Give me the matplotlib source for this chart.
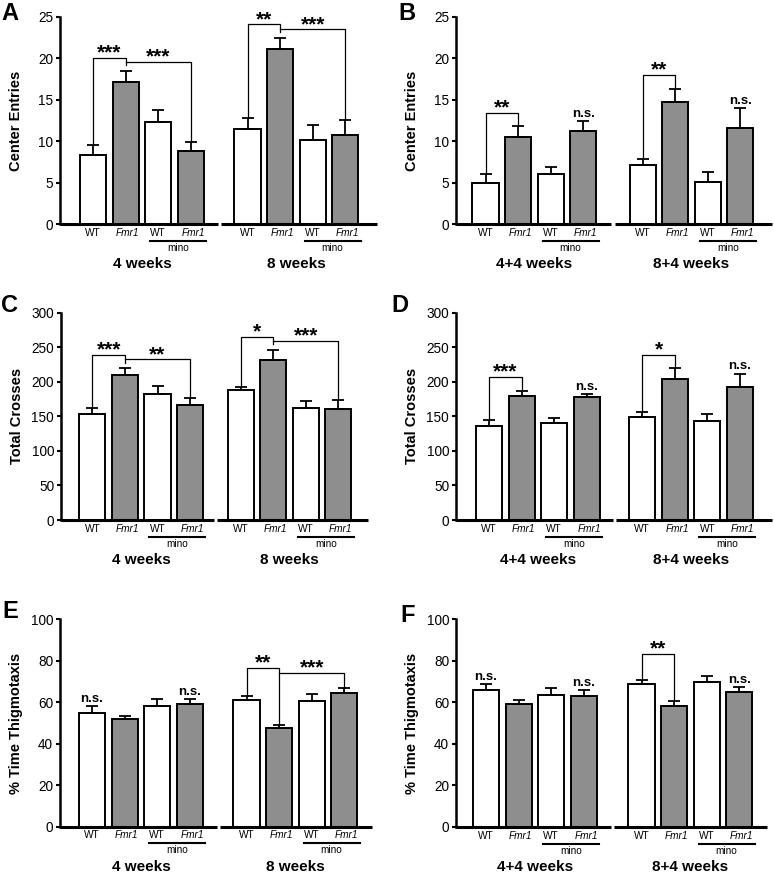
import matplotlib
matplotlib.use("Agg")
import matplotlib.pyplot as plt
from matplotlib import transforms
import numpy as np

plt.rcParams['font.family'] = ['Liberation Sans', 'DejaVu Sans']

# ---------------- data ----------------
genotypes = ["WT", "Fmr1", "WT", "Fmr1"]
treatment = "mino"
young_groups = ["4 weeks", "8 weeks"]
adult_groups = ["4+4 weeks", "8+4 weeks"]

ce_young_mean = [8.3, 17.2, 12.3, 8.8, 11.5, 21.1, 10.2, 10.7]
ce_young_sem = [1.2, 1.3, 1.5, 1.05, 1.3, 1.4, 1.7, 1.9]
ce_adult_mean = [4.9, 10.5, 6.0, 11.2, 7.1, 14.75, 5.05, 11.6]
ce_adult_sem = [1.1, 1.3, 0.9, 1.25, 0.8, 1.6, 1.25, 2.4]

tc_young_mean = [154, 210, 182, 167, 188, 232, 161.5, 160.5]
tc_young_sem = [8, 10, 12, 10, 5, 13.5, 10, 13]
tc_adult_mean = [136.5, 179.5, 140, 177.5, 149.5, 203.5, 143, 192]
tc_adult_sem = [8, 7.5, 7, 5, 7, 16, 10, 20]

th_young_mean = [55, 51.8, 58.2, 59.2, 61.1, 47.7, 60.8, 64.3]
th_young_sem = [3.2, 1.6, 3.2, 2.4, 2.1, 1.5, 3.2, 2.4]
th_adult_mean = [66.2, 59.2, 63.5, 63.2, 68.8, 58.2, 69.9, 64.8]
th_adult_sem = [2.6, 2.0, 3.4, 2.7, 2.0, 2.4, 2.9, 2.7]

# ---------------- figure ----------------
W, H = 774, 873
fig = plt.figure(figsize=(W / 100, H / 100), dpi=100)
GRAY = '#8e8e8e'
UNIT = 32.6  # px per bar slot


def make_axes(left, right, top, bottom):
    return fig.add_axes([left / W, 1 - bottom / H, (right - left) / W, (bottom - top) / H])


def panel(box, x0, goff, means, sems, ylim, yticks, ylabel, letter, letter_xy,
          groups, annots):
    left, right, top, bottom = box
    ax = make_axes(left, right, top, bottom)
    pos = np.array([0, 1, 2, 3, goff, goff + 1, goff + 2, goff + 3], dtype=float)
    colors = ['white', GRAY, 'white', GRAY] * 2
    ax.bar(pos, means, width=0.8, color=colors, edgecolor='black', linewidth=1.4, zorder=2)
    ax.errorbar(pos, means, yerr=[np.zeros(len(sems)), sems], fmt='none', ecolor='black',
                elinewidth=1.3, capsize=4.3, capthick=1.3, zorder=3)
    xl = ((left - x0) / UNIT, (right - x0) / UNIT)
    ax.set_xlim(*xl)
    ax.set_ylim(*ylim)
    ax.set_yticks(yticks)
    ax.set_xticks([])
    for s in ['top', 'right', 'bottom']:
        ax.spines[s].set_visible(False)
    ax.spines['left'].set_linewidth(1.8)
    ax.tick_params(axis='y', direction='out', length=3, width=1.5, labelsize=9.8, pad=2)
    # x axis drawn as two segments
    mid = (3 + goff) / 2
    for a, b in [(xl[0], mid - 0.05), (mid + 0.05, xl[1])]:
        ax.plot([a, b], [0, 0], color='black', lw=2.2, solid_capstyle='butt',
                clip_on=False, zorder=4)
    # labels under axis
    trans = transforms.blended_transform_factory(ax.transData, ax.transAxes)
    for g in range(2):
        base = pos[4 * g]
        for i, lab in enumerate(genotypes):
            style = 'italic' if lab.startswith('Fmr') else 'normal'
            dx = 0.07 if lab.startswith('Fmr') else 0.0
            ax.text(base + i + dx, 0, lab, transform=transforms.offset_copy(
                trans, fig, x=0, y=-6.3, units='points'), ha='center', va='center',
                fontsize=7.3, style=style)
        x1, x2 = base + 2 - 0.25, base + 3 + 0.47
        ax.plot([x1, x2], [0, 0], color='black', lw=1.5, clip_on=False,
                transform=transforms.offset_copy(trans, fig, x=0, y=-12, units='points'))
        ax.text((x1 + x2) / 2, 0, treatment, transform=transforms.offset_copy(
            trans, fig, x=0, y=-17, units='points'), ha='center', va='center', fontsize=7.2)
        ax.text(base + 1.5, 0, groups[g], transform=transforms.offset_copy(
            trans, fig, x=0, y=-28.8, units='points'), ha='center', va='center',
                fontsize=11, weight='bold')
    fig.text((left - 44) / W, 1 - ((top + bottom) / 2) / H, ylabel, rotation=90,
             ha='center', va='center', fontsize=10.5, weight='bold')
    fig.text(letter_xy[0] / W, 1 - letter_xy[1] / H, letter, ha='center', va='center',
             fontsize=17, weight='bold')

    rng = ylim[1] - ylim[0]
    gap = 0.004 * rng
    tops = np.array(means) + np.array(sems)

    def stars(x, y, s):
        ax.annotate(s, (x, y), xytext=(0, -0.4), textcoords='offset points',
                    ha='center', va='baseline', fontsize=15, weight='bold',
                    annotation_clip=False)

    for an in annots:
        kind = an[0]
        if kind == 'ns':
            i = an[1]
            ax.annotate('n.s.', (pos[i], tops[i]), xytext=(0, 3), textcoords='offset points',
                        ha='center', va='baseline', fontsize=9.5, weight='bold',
                        annotation_clip=False)
        elif kind == 'single':
            _, i, j, h, s = an
            ax.plot([pos[i], pos[i], pos[j], pos[j]], [tops[i] + gap, h, h, tops[j] + gap],
                    color='black', lw=0.9, clip_on=False)
            stars((pos[i] + pos[j]) / 2, h, s)
        elif kind == 'double':
            _, i, j, k, h1, h2, midb, s1, s2 = an
            ax.plot([pos[i], pos[i], pos[j], pos[j]], [tops[i] + gap, h1, h1, midb],
                    color='black', lw=0.9, clip_on=False)
            ax.plot([pos[j], pos[k], pos[k]], [h2, h2, tops[k] + gap],
                    color='black', lw=0.9, clip_on=False)
            stars((pos[i] + pos[j]) / 2, h1, s1)
            stars((pos[j] + pos[k]) / 2, h2, s2)
    return ax


# A
panel((60, 377, 17, 224), 93, 4.74, ce_young_mean, ce_young_sem, (0, 25), range(0, 26, 5),
      'Center Entries', 'A', (10, 14), young_groups,
      [('double', 0, 1, 3, 20.1, 19.57, 19.17, '***', '***'),
       ('double', 4, 5, 7, 24.1, 23.5, 23.2, '**', '***')])
# B
panel((456, 772, 17, 224), 485.5, 4.82, ce_adult_mean, ce_adult_sem, (0, 25), range(0, 26, 5),
      'Center Entries', 'B', (407, 14), adult_groups,
      [('single', 0, 1, 13.4, '**'), ('ns', 3),
       ('single', 4, 5, 17.97, '**'), ('ns', 7)])
# C
panel((61, 368, 312.7, 520), 92.3, 4.55, tc_young_mean, tc_young_sem, (0, 300),
      range(0, 301, 50), 'Total Crosses', 'C', (10, 305), young_groups,
      [('double', 0, 1, 3, 238.8, 232.5, 227.7, '***', '**'),
       ('double', 4, 5, 7, 265.3, 259, 254.2, '*', '***')])
# D
panel((456, 772, 312.7, 520), 489, 4.7, tc_adult_mean, tc_adult_sem, (0, 300),
      range(0, 301, 50), 'Total Crosses', 'D', (400, 305), adult_groups,
      [('single', 0, 1, 206.5, '***'), ('ns', 3),
       ('single', 4, 5, 238.3, '*'), ('ns', 7)])
# E
panel((60, 372, 619.3, 826.7), 92, 4.74, th_young_mean, th_young_sem, (0, 100),
      range(0, 101, 20), '% Time Thigmotaxis', 'E', (10, 612), young_groups,
      [('ns', 0), ('ns', 3),
       ('double', 4, 5, 7, 76.4, 74.0, 49.6, '**', '***')])
# F
panel((456, 767, 619.3, 827), 486, 4.77, th_adult_mean, th_adult_sem, (0, 100),
      range(0, 101, 20), '% Time Thigmotaxis', 'F', (408, 615), adult_groups,
      [('ns', 0), ('ns', 3), ('single', 4, 5, 83.3, '**'), ('ns', 7)])

fig.savefig('out.png', dpi=100)
